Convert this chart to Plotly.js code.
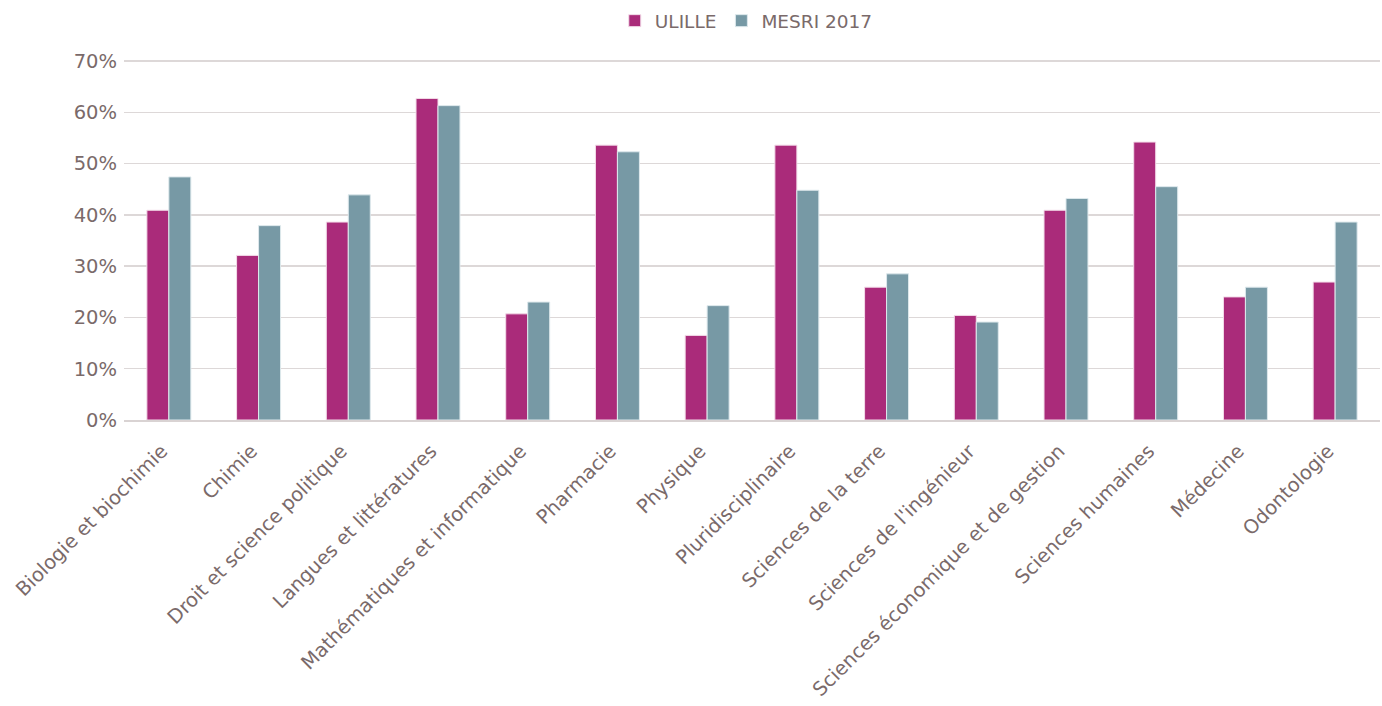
<!DOCTYPE html>
<html><head><meta charset="utf-8">
<script src="https://cdn.plot.ly/plotly-3.0.1.min.js"></script>
<style>html,body{margin:0;padding:0;background:#fff;}#chart{width:1382px;height:706px;}</style>
</head><body><div id="chart"></div>
<script>
const categories = ["Biologie et biochimie","Chimie","Droit et science politique","Langues et littératures","Mathématiques et informatique","Pharmacie","Physique","Pluridisciplinaire","Sciences de la terre","Sciences de l'ingénieur","Sciences économique et de gestion","Sciences humaines","Médecine","Odontologie"];
const ulille = [40.9,32.1,38.6,62.7,20.7,53.6,16.5,53.6,25.9,20.4,40.9,54.2,24.0,26.9];
const mesri = [47.4,37.9,43.9,61.3,23.0,52.3,22.3,44.8,28.5,19.1,43.2,45.5,25.9,38.6];
const yTicks = [0,10,20,30,40,50,60,70];

const txt = '#7a6a6a';
const traces = [
  {type:'bar', name:'ULILLE', x:categories, y:ulille, marker:{color:'#aa2b7a', line:{color:'#f3dce9', width:1}}},
  {type:'bar', name:'MESRI 2017', x:categories, y:mesri, marker:{color:'#7799a5', line:{color:'#dde8ec', width:1}}}
];
const layout = {
  width:1382, height:706,
  margin:{l:124, r:2, t:60, b:286},
  paper_bgcolor:'#fff', plot_bgcolor:'#fff',
  font:{family:'DejaVu Sans, sans-serif', color:txt, size:18},
  barmode:'group', bargap:0.51, bargroupgap:0,
  showlegend:true,
  legend:{orientation:'h', xref:'container', x:0.54, xanchor:'center', yref:'container', y:0.997, yanchor:'top', font:{size:18.5, color:txt}, itemwidth:30, traceorder:'normal'},
  xaxis:{tickangle:-45, tickfont:{size:19.5, color:txt}, ticklabelstandoff:10, ticklabelshift:-7, showgrid:false, showline:true, linecolor:'#d9d3d3', linewidth:2, ticks:'', automargin:false},
  yaxis:{range:[0,70.2], tickvals:yTicks, ticktext:yTicks.map(v=>v+'%'), tickfont:{size:19.5, color:txt}, ticklabelstandoff:6, gridcolor:'#ddd8d8', gridwidth:1.5, zeroline:false, showline:false, ticks:'', ticklen:0, automargin:false}
};
Plotly.newPlot('chart', traces, layout, {displayModeBar:false, staticPlot:true});
</script></body></html>
